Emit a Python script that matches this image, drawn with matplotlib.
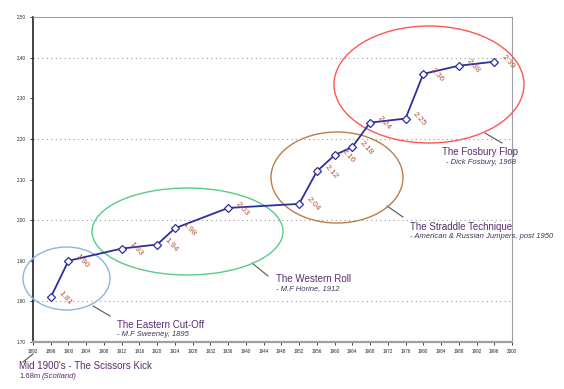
import matplotlib
matplotlib.use("Agg")
import matplotlib.pyplot as plt
from matplotlib.patches import Ellipse

plt.rcParams['font.family'] = ['Liberation Sans', 'DejaVu Sans']

# world record progression (year, height in m)
years = [1896, 1900, 1912, 1920, 1924, 1936, 1952, 1956, 1960, 1964, 1968, 1976, 1980, 1988, 1996]
heights = [1.81, 1.90, 1.93, 1.94, 1.98, 2.03, 2.04, 2.12, 2.16, 2.18, 2.24, 2.25, 2.36, 2.38, 2.39]
labels = ["1.81", "1.90", "1.93", "1.94", "1.98", "2.03", "2.04", "2.12", "2.16", "2.18",
          "2.24", "2.25", "2.36", "2.38", "2.39"]

x_ticks = list(range(1892, 2001, 4))
y_ticks = [1.70, 1.80, 1.90, 2.00, 2.10, 2.20, 2.30, 2.40, 2.50]
grid_levels = [1.80, 2.00, 2.20, 2.40]

W, H = 564, 389
L, R, T, B = 33, 512, 17, 342


def px(x, y):
    # pixel position in the figure -> data coords
    return (1892 + (x - L) / (R - L) * 108, 1.70 + (B - y) / (B - T) * 0.8)


def pw(w, h):
    return (w / (R - L) * 108, h / (B - T) * 0.8)


fig = plt.figure(figsize=(W / 100, H / 100), dpi=100)
ax = fig.add_axes([L / W, (H - B) / H, (R - L) / W, (B - T) / H])
ax.set_xlim(1892, 2000)
ax.set_ylim(1.70, 2.50)

for g in grid_levels:
    ax.axhline(g, color="#999999", lw=0.8, ls=(0, (1, 3)), zorder=1)

ax.plot(years, heights, color="#2e2ea0", lw=1.3, marker="D", ms=3.6,
        mfc="white", mec="#2e2ea0", mew=0.9, zorder=4)

for x, y, s in zip(years, heights, labels):
    ax.annotate(s, (x, y), xytext=(10, -0.5), textcoords="offset points",
                rotation=-48, ha="center", va="center", fontsize=6,
                color="#b4553c", zorder=5)

ax.set_xticks(x_ticks)
ax.set_yticks(y_ticks)
ax.set_yticklabels([f"{v:.2f}" for v in y_ticks])
ax.tick_params(labelsize=3.3, length=2, width=0.6, pad=3, colors="#222222")

for side in ["top", "right"]:
    ax.spines[side].set_color("#a0a0a0")
    ax.spines[side].set_linewidth(0.8)
ax.spines["bottom"].set_color("#a0a0a0")
ax.spines["bottom"].set_linewidth(1.6)
ax.spines["left"].set_color("#222222")
ax.spines["left"].set_linewidth(1.2)

# technique ellipses (pixel centre, pixel size, colour)
ellipses = [
    ((66.5, 278.5), (87, 63), "#8db4e2"),
    ((187.5, 231.5), (191, 87), "#55cc88"),
    ((337, 177.5), (132, 91), "#b97d4b"),
    ((429, 84.5), (190, 117), "#ff5555"),
]
for c, s, col in ellipses:
    ax.add_patch(Ellipse(px(*c), *pw(*s), fill=False, ec=col, lw=1.0,
                         clip_on=False, zorder=3))

leaders = [
    ((93, 306), (110, 316)),
    ((252, 263), (268, 276)),
    ((387, 206), (403, 217)),
    ((485, 133), (502, 143)),
    ((33, 354), (23, 362)),
]
for a, b in leaders:
    p, q = px(*a), px(*b)
    ax.plot([p[0], q[0]], [p[1], q[1]], color="#555555", lw=0.8, clip_on=False)

title_col = "#5a2d6e"
sub_col = "#3c3658"
notes = [
    ((117, 325), "The Eastern Cut-Off", (117, 335), "- M.F Sweeney, 1895"),
    ((276, 279), "The Western Roll", (276, 289), "- M.F Horine, 1912"),
    ((410, 227), "The Straddle Technique", (410, 237), "- American & Russian Jumpers, post 1950"),
    ((442, 152), "The Fosbury Flop", (446, 162), "- Dick Fosbury, 1968"),
]
for p1, t1, p2, t2 in notes:
    ax.text(*px(*p1), t1, fontsize=7, color=title_col, va="center", ha="left")
    ax.text(*px(*p2), t2, fontsize=5.5, style="italic", color=sub_col,
            va="center", ha="left")

ax.text(*px(19, 366), "Mid 1900's - The Scissors Kick", fontsize=7,
        color=title_col, va="center", ha="left")
ax.text(*px(19, 377), "1.68m", fontsize=5.5, color=title_col, va="center", ha="left")
ax.text(*px(42, 377), "(Scotland)", fontsize=5.5, style="italic",
        color=title_col, va="center", ha="left")

fig.savefig("out.png", dpi=100)
